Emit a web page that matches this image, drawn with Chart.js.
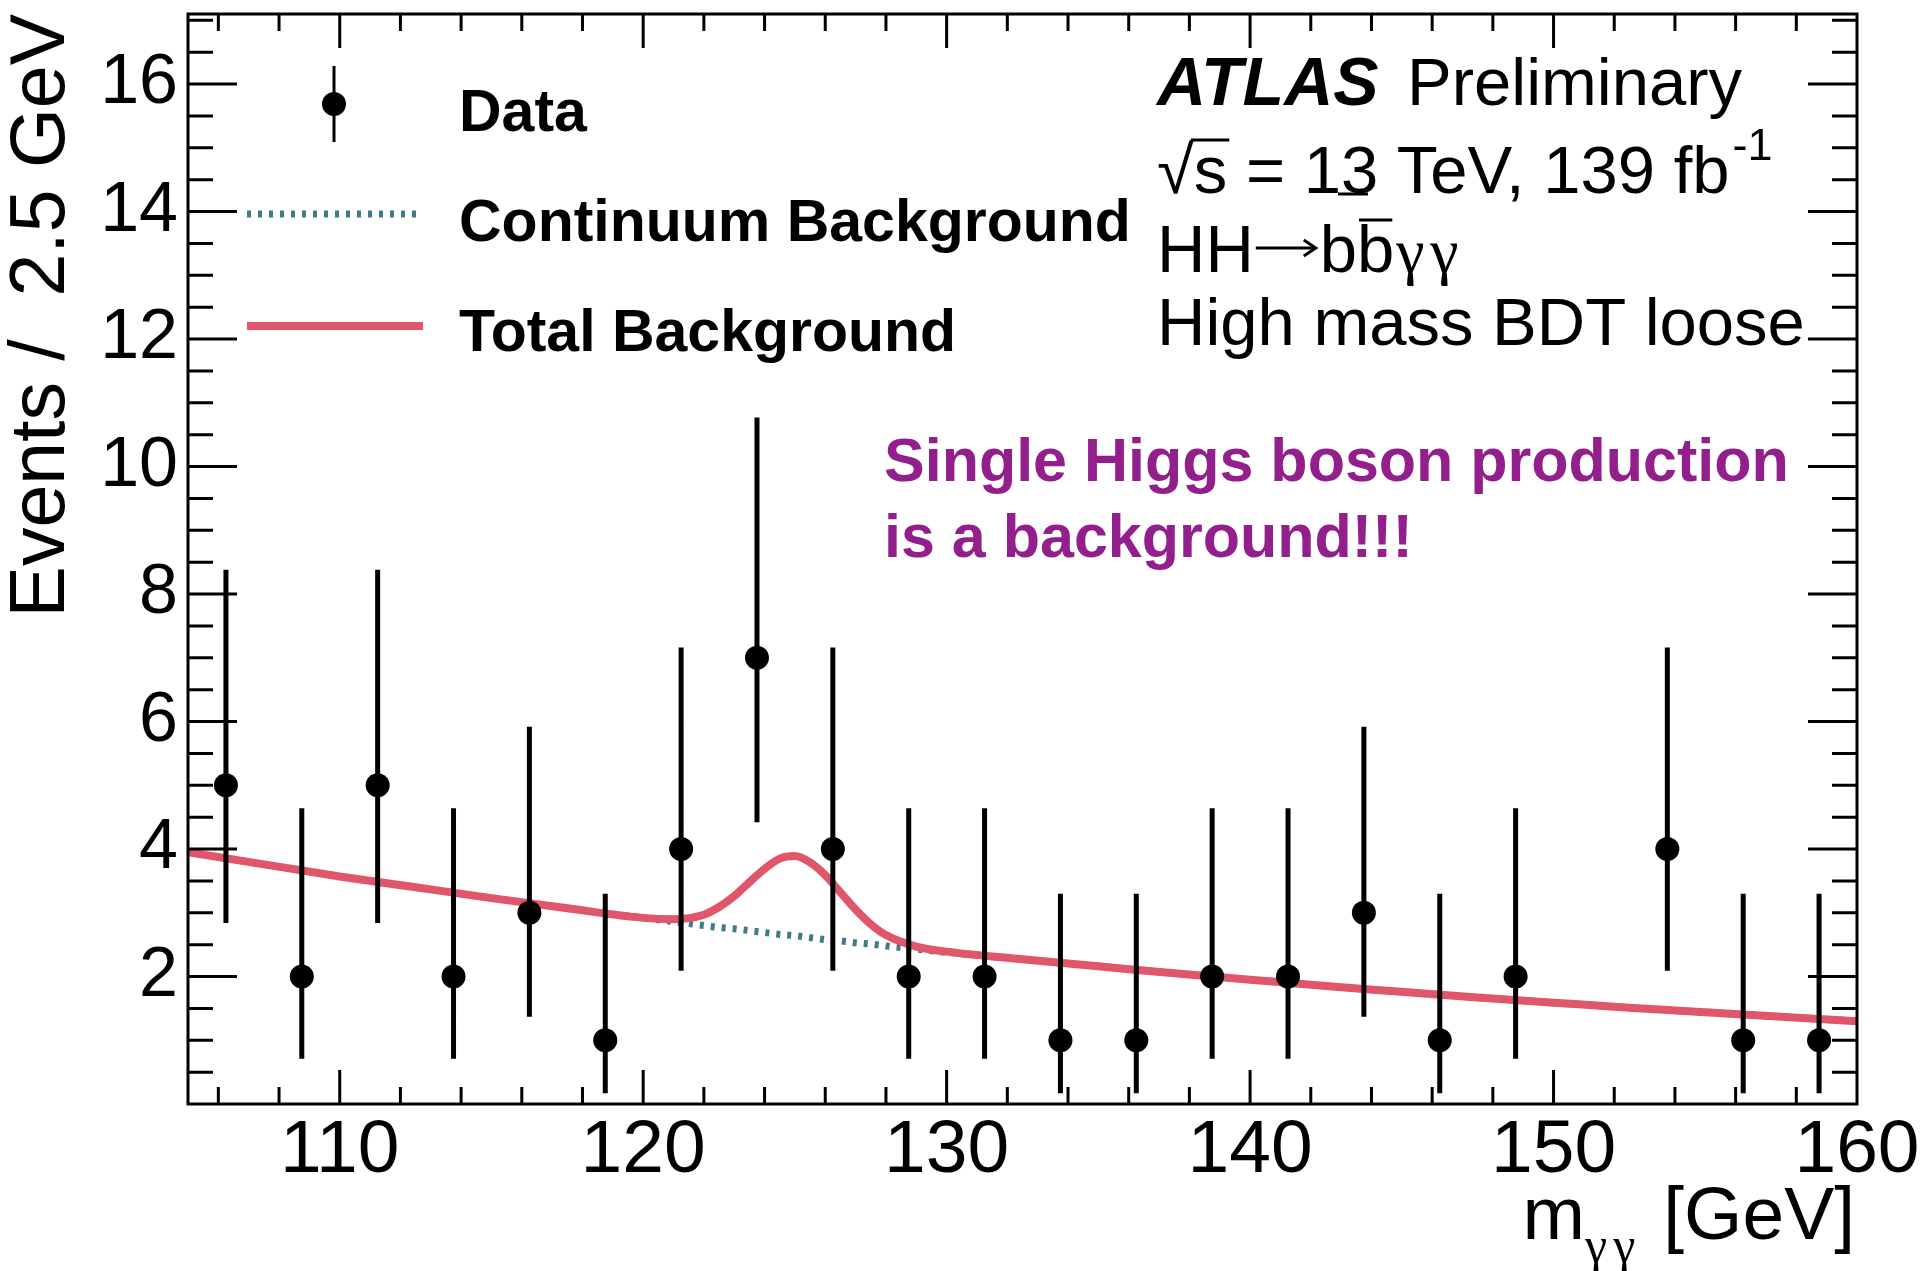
<!DOCTYPE html>
<html>
<head>
<meta charset="utf-8">
<script src="https://cdn.jsdelivr.net/npm/chart.js@4.4.1/dist/chart.umd.min.js"></script>
<style>
  html, body { margin: 0; padding: 0; background: #fff; }
  #wrap { width: 1920px; height: 1271px; }
</style>
</head>
<body>
<div id="wrap"><canvas id="grafico" width="1920" height="1271"></canvas></div>
<script>
// bin centres (GeV), 2.5 GeV bins; the empty bin at 151.25 is not drawn
const massBins = [106.25, 108.75, 111.25, 113.75, 116.25, 118.75, 121.25, 123.75, 126.25, 128.75, 131.25,
                  133.75, 136.25, 138.75, 141.25, 143.75, 146.25, 148.75, 153.75, 156.25, 158.75];
const events   = [5, 2, 5, 2, 3, 1, 4, 7, 4, 2, 2, 1, 1, 2, 2, 3, 1, 2, 4, 1, 1];
const errLow   = [2.84, 0.71, 2.84, 0.71, 1.37, 0.17, 2.09, 4.42, 2.09, 0.71, 0.71,
                  0.17, 0.17, 0.71, 0.71, 1.37, 0.17, 0.71, 2.09, 0.17, 0.17];
const errHigh  = [8.38, 4.64, 8.38, 4.64, 5.92, 3.30, 7.16, 10.77, 7.16, 4.64, 4.64,
                  3.30, 3.30, 4.64, 4.64, 5.92, 3.30, 4.64, 7.16, 3.30, 3.30];

// background curves
const curveMass    = [105, 107.5, 110, 112.5, 115, 117.5, 120, 121, 122, 122.5, 123, 123.5, 124, 124.5, 125,
                      125.5, 126, 126.5, 127, 127.5, 128, 129, 130, 132.5, 135, 137.5, 140, 142.5, 145,
                      147.5, 150, 152.5, 155, 157.5, 160];
const continuumBkg = [3.95, 3.76, 3.57, 3.40, 3.23, 3.07, 2.92, 2.86, 2.80, 2.77, 2.75, 2.72, 2.69, 2.66, 2.64,
                      2.61, 2.58, 2.56, 2.53, 2.51, 2.48, 2.43, 2.38, 2.27, 2.16, 2.05, 1.95, 1.85, 1.76,
                      1.67, 1.59, 1.51, 1.44, 1.37, 1.30];
const totalBkg     = [3.95, 3.76, 3.57, 3.40, 3.23, 3.07, 2.92, 2.90, 2.97, 3.09, 3.26, 3.48, 3.69, 3.85, 3.89,
                      3.79, 3.59, 3.32, 3.05, 2.82, 2.65, 2.47, 2.39, 2.27, 2.16, 2.05, 1.95, 1.85, 1.76,
                      1.67, 1.59, 1.51, 1.44, 1.37, 1.30];

const xTickLabels = [110, 120, 130, 140, 150, 160];
const yTickLabels = [2, 4, 6, 8, 10, 12, 14, 16];

const legendLabels = ['Data', 'Continuum Background', 'Total Background'];
const noteLines = ['Single Higgs boson production', 'is a background!!!'];

const SANS = '"Liberation Sans", Arial, Helvetica, sans-serif';
const SERIF = '"Liberation Serif", "DejaVu Serif", serif';
const ROJO = '#e0566a';
const VERDE = '#3d7d85';
const MORADO = '#931f8c';

var puntos = massBins.map(function (m, i) { return { x: m, y: events[i] }; });
var barras = [];
for (var i in massBins) {
    barras.push({ x: massBins[i], y: errLow[i] });
    barras.push({ x: massBins[i], y: errHigh[i] });
    barras.push({ x: massBins[i], y: null });
}
var continuo = curveMass.map(function (m, i) { return { x: m, y: continuumBkg[i] }; });
var total = curveMass.map(function (m, i) { return { x: m, y: totalBkg[i] }; });

// frame with ROOT-style inner ticks on all four sides
const marcoPlugin = {
    id: 'marco',
    afterDraw(chart) {
        const ctx = chart.ctx, a = chart.chartArea;
        const sx = chart.scales.x, sy = chart.scales.y;
        ctx.save();
        ctx.strokeStyle = '#000';
        ctx.lineWidth = 3;
        ctx.strokeRect(a.left, a.top, a.right - a.left, a.bottom - a.top);
        ctx.beginPath();
        for (let v = 106; v < 160; v += 2) {
            const px = sx.getPixelForValue(v);
            const len = v % 10 === 0 ? 34 : 17;
            ctx.moveTo(px, a.bottom); ctx.lineTo(px, a.bottom - len);
            ctx.moveTo(px, a.top); ctx.lineTo(px, a.top + len);
        }
        for (let v = 0.5; v <= 17; v += 0.5) {
            const py = sy.getPixelForValue(v);
            const len = v % 2 === 0 ? 49 : 25;
            ctx.moveTo(a.left, py); ctx.lineTo(a.left + len, py);
            ctx.moveTo(a.right, py); ctx.lineTo(a.right - len, py);
        }
        ctx.stroke();
        ctx.restore();
    }
};

const textoPlugin = {
    id: 'texto',
    afterDraw(chart) {
        const ctx = chart.ctx;
        ctx.save();
        ctx.fillStyle = '#000';
        ctx.textBaseline = 'alphabetic';

        // legend
        ctx.strokeStyle = '#000';
        ctx.lineWidth = 3;
        ctx.beginPath(); ctx.moveTo(334, 66); ctx.lineTo(334, 142); ctx.stroke();
        ctx.beginPath(); ctx.arc(334, 104, 12, 0, Math.PI * 2); ctx.fill();
        ctx.strokeStyle = VERDE; ctx.lineWidth = 7; ctx.setLineDash([4, 7]);
        ctx.beginPath(); ctx.moveTo(247, 214); ctx.lineTo(423, 214); ctx.stroke();
        ctx.setLineDash([]);
        ctx.strokeStyle = ROJO; ctx.lineWidth = 8;
        ctx.beginPath(); ctx.moveTo(247, 326); ctx.lineTo(423, 326); ctx.stroke();
        ctx.font = 'bold 59px ' + SANS;
        const legY = [131, 241, 351];
        legendLabels.forEach(function (t, k) { ctx.fillText(t, 459, legY[k]); });

        // ATLAS label block
        let x0 = 1157;
        ctx.font = 'italic bold 68px ' + SANS;
        ctx.fillText('ATLAS', x0, 105);
        ctx.font = '67px ' + SANS;
        ctx.fillText('Preliminary', 1407, 105);

        ctx.fillText('\u221A', x0, 193);
        let w = ctx.measureText('\u221A').width;
        ctx.fillText('s = 13 TeV, 139 fb', x0 + w, 193);
        let ws = ctx.measureText('s').width;
        let wl = ctx.measureText('s = 13 TeV, 139 fb').width;
        ctx.strokeStyle = '#000'; ctx.lineWidth = 3;
        ctx.beginPath(); ctx.moveTo(x0 + w - 3, 140); ctx.lineTo(x0 + w + ws + 2, 140); ctx.stroke();
        ctx.beginPath(); ctx.moveTo(1338, 194); ctx.lineTo(1368, 194); ctx.stroke();
        ctx.font = '45px ' + SANS;
        ctx.fillText('-1', x0 + w + wl + 3, 160);

        ctx.font = '67px ' + SANS;
        let cx = x0;
        ctx.fillText('HH', cx, 272);
        cx += ctx.measureText('HH').width + 2;
        // arrow
        ctx.lineWidth = 3;
        ctx.beginPath();
        ctx.moveTo(cx, 248); ctx.lineTo(cx + 60, 248);
        ctx.moveTo(cx + 48, 240); ctx.lineTo(cx + 60, 248); ctx.lineTo(cx + 48, 256);
        ctx.stroke();
        cx += 64;
        let wb = ctx.measureText('b').width;
        ctx.fillText('b', cx, 272);
        cx += wb;
        ctx.fillText('b', cx, 272);
        ctx.beginPath(); ctx.moveTo(cx + 2, 220); ctx.lineTo(cx + wb - 2, 220); ctx.stroke();
        cx += wb;
        ctx.font = '64px ' + SERIF;
        ctx.fillText('\u03B3', cx + 2, 272);
        ctx.fillText('\u03B3', cx + 36, 272);
        ctx.font = '67px ' + SANS;
        ctx.fillText('High mass BDT loose', x0, 345);

        // note
        ctx.fillStyle = MORADO;
        ctx.font = 'bold 61px ' + SANS;
        ctx.fillText(noteLines[0], 884, 481);
        ctx.fillText(noteLines[1], 884, 557);

        // x axis title
        ctx.fillStyle = '#000';
        ctx.textAlign = 'right';
        ctx.font = '75px ' + SANS;
        ctx.fillText('[GeV]', 1855, 1239);
        let xr = 1855 - ctx.measureText('[GeV]').width - 28;
        ctx.font = '50px ' + SERIF;
        ctx.fillText('\u03B3', xr, 1262);
        xr -= ctx.measureText('\u03B3').width + 6;
        ctx.fillText('\u03B3', xr, 1262);
        xr -= ctx.measureText('\u03B3').width;
        ctx.font = '75px ' + SANS;
        ctx.fillText('m', xr, 1239);

        // y axis title
        ctx.font = '77px ' + SANS;
        ctx.translate(64, 14);
        ctx.rotate(-Math.PI / 2);
        ctx.textAlign = 'right';
        ctx.fillText('Events /  2.5 GeV', 0, 0);
        ctx.restore();
    }
};

var grafico = new Chart(document.getElementById('grafico'), {
    type: 'scatter',
    data: {
        datasets: [
            {
                label: 'Data',
                data: puntos,
                backgroundColor: '#000',
                borderWidth: 0,
                pointRadius: 12,
                showLine: false
            },
            {
                label: 'errores',
                data: barras,
                showLine: true,
                spanGaps: false,
                borderColor: '#000',
                borderWidth: 5,
                pointRadius: 0
            },
            {
                label: 'Total Background',
                data: total,
                showLine: true,
                borderColor: ROJO,
                borderWidth: 8,
                pointRadius: 0,
                cubicInterpolationMode: 'monotone'
            },
            {
                label: 'Continuum Background',
                data: continuo,
                showLine: true,
                borderColor: VERDE,
                borderWidth: 7,
                borderDash: [4, 7],
                pointRadius: 0,
                cubicInterpolationMode: 'monotone'
            }
        ]
    },
    options: {
        responsive: false,
        animation: false,
        devicePixelRatio: 1,
        layout: { padding: { top: 14, right: 63, left: 0, bottom: 0 } },
        plugins: { legend: { display: false }, tooltip: { enabled: false } },
        scales: {
            x: {
                type: 'linear',
                min: 105,
                max: 160,
                grid: { display: false, drawTicks: false },
                border: { display: false },
                ticks: {
                    color: '#000',
                    padding: 2,
                    maxRotation: 0,
                    autoSkip: false,
                    font: { family: SANS, size: 75 }
                },
                afterBuildTicks: function (s) { s.ticks = xTickLabels.map(function (v) { return { value: v }; }); },
                afterFit: function (s) { s.height = 167; s.paddingLeft = 0; s.paddingRight = 0; }
            },
            y: {
                min: 0,
                max: 17.1,
                grid: { display: false, drawTicks: false },
                border: { display: false },
                ticks: {
                    color: '#000',
                    padding: 10,
                    font: { family: SANS, size: 70 }
                },
                afterBuildTicks: function (s) { s.ticks = yTickLabels.map(function (v) { return { value: v }; }); },
                afterFit: function (s) { s.width = 188; s.paddingTop = 0; s.paddingBottom = 0; }
            }
        }
    },
    plugins: [marcoPlugin, textoPlugin]
});
</script>
</body>
</html>
